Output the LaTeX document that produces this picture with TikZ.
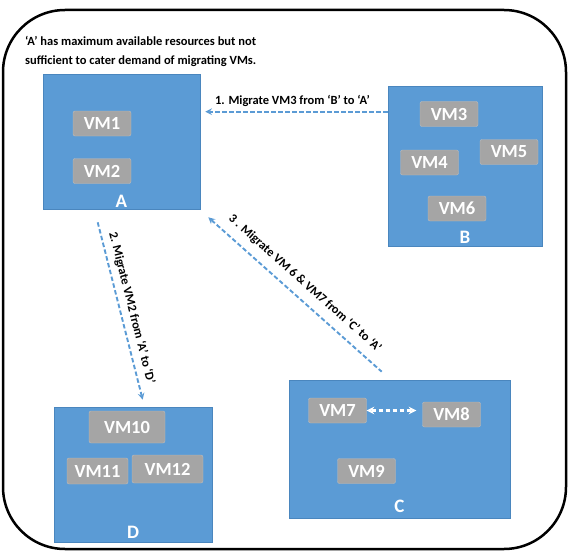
\documentclass[tikz,border=0pt]{standalone}
\usepackage{fontspec}
\setmainfont{Carlito}
\usetikzlibrary{positioning,calc}
\definecolor{hostblue}{HTML}{5B9BD5}
\definecolor{hostedge}{HTML}{4A86BE}
\definecolor{vmgray}{HTML}{A5A5A5}
\definecolor{vmedge}{HTML}{BDBDBD}

\begin{document}
\begin{tikzpicture}[
    x=1pt, y=-1pt,
    host/.style={draw=hostedge, fill=hostblue, line width=0.6pt, inner sep=0pt},
    vm/.style={draw=vmedge, fill=vmgray, rounded corners=2pt, text=white, inner sep=0pt,
        font=\fontsize{18.5}{20}\selectfont\bfseries, minimum width=58pt, minimum height=25pt},
    hostlbl/.style={text=white, inner sep=0pt, font=\fontsize{19}{20}\selectfont\bfseries},
    arr/.style={->, >=stealth, line width=1.9pt, hostblue, dash pattern=on 4.5pt off 2.5pt},
    lbl/.style={text=black, font=\fontsize{12.5}{14}\selectfont\bfseries},
    note/.style={text=black, align=left, inner sep=0pt, font=\fontsize{12.5}{19}\selectfont\bfseries}
]
    \useasboundingbox (0,0) rectangle (568,551);

    % Outer frame
    \draw[line width=2.5pt, rounded corners=62pt] (3,10) rectangle (566,549);

    % Top note
    \node[note, anchor=north west] (note) at (25,36)
        {‘A’ has maximum available resources but not\\sufficient to cater demand of migrating VMs.};

    % Hosts
    \node[host, minimum width=157pt, minimum height=135pt] (A) at (121.5,141.5) {};
    \node[host, minimum width=154pt, minimum height=160pt] (B) at (465,166) {};
    \node[host, minimum width=221pt, minimum height=138pt] (C) at (399.5,449) {};
    \node[host, minimum width=158pt, minimum height=135pt] (D) at (133,474.5) {};

    \node[hostlbl, above=2pt of A.south] (labA) {A};
    \node[hostlbl, above=3pt of B.south] (labB) {B};
    \node[hostlbl, above=5pt of C.south] (labC) {C};
    \node[hostlbl, above=4pt of D.south] (labD) {D};

    % VMs on A
    \node[vm] (VM1) at (102,123.5) {VM1};
    \node[vm] (VM2) at (102,171) {VM2};
    % VMs on B
    \node[vm] (VM3) at (449,114) {VM3};
    \node[vm] (VM4) at (429.5,162.5) {VM4};
    \node[vm] (VM5) at (509,152) {VM5};
    \node[vm] (VM6) at (457,208.5) {VM6};
    % VMs on C
    \node[vm] (VM7) at (337.5,410.5) {VM7};
    \node[vm] (VM8) at (451.5,414.5) {VM8};
    \node[vm] (VM9) at (366.5,471) {VM9};
    % VMs on D
    \node[vm, minimum width=76pt, minimum height=32pt] (VM10) at (127,427) {VM10};
    \node[vm, minimum width=61pt, minimum height=26pt] (VM11) at (97.5,471) {VM11};
    \node[vm, minimum width=71pt, minimum height=28pt] (VM12) at (167.5,469) {VM12};

    % Migrations
    \draw[arr] ($(B.north west)+(0,26)$) -- ($(A.north east)+(5,38)$)
        node[lbl, midway, above=1pt, xshift=-4pt] {1. Migrate VM3 from ‘B’ to ‘A’};
    \draw[arr] ($(A.south west)+(55,13)$) -- ($(D.north west)+(89,-7)$)
        node[lbl, midway, above=2pt, sloped] {2. Migrate VM2 from ‘A’ to ‘D’};
    \draw[arr, <-] ($(A.south east)+(8,8)$) -- ($(C.north west)+(93,-8)$)
        node[lbl, midway, above=5pt, sloped] {3 . Migrate VM 6 \& VM7 from ‘C’ to ‘A’};

    % Swap inside C
    \draw[arr, <->, white, line width=2.3pt, shorten >=6pt] (VM7.east) -- (VM7.east -| VM8.west);
\end{tikzpicture}
\end{document}
